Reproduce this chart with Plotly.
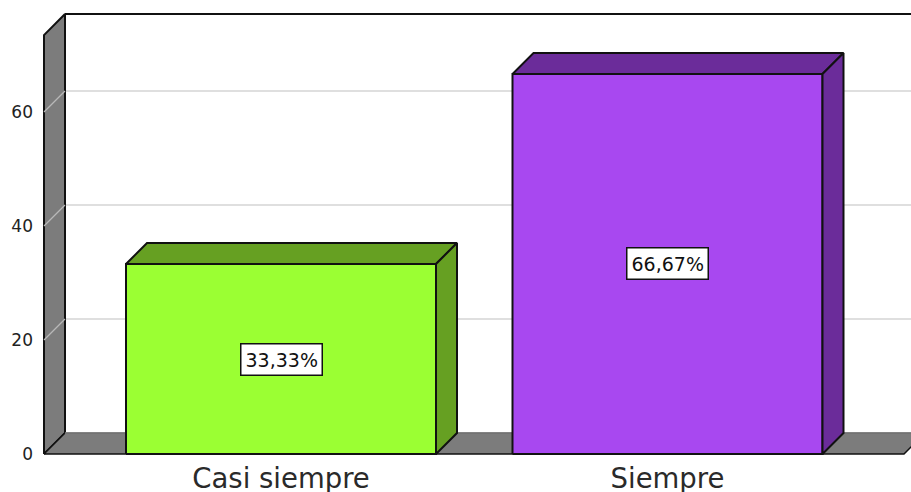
import plotly.graph_objects as go

# Chart data
categories = ["Casi siempre", "Siempre"]
percentages = [33.33, 66.67]
tick_values = [0, 20, 40, 60]

# Colours: front face, and the darker top/side faces
face_colors = ["#9BFF33", "#A848F0"]
shade_colors = ["#66A022", "#6B2C9A"]
WALL_GRAY = "#7C7C7C"
GRID_GRAY = "#D4D4D4"

# Scale helpers for the pseudo-3D layout (pixels per data unit)
PX_X = 386.5          # pixels per category step
PX_Y = 5.7            # pixels per percentage point
DEPTH = 21            # depth offset of the 3D effect, in pixels
DX = DEPTH / PX_X
DY = DEPTH / PX_Y
BAR_W = 310 / PX_X

X_MIN, X_MAX = -241 / PX_X, 630 / PX_X
Y_MIN, Y_MAX = -4 / PX_Y, 442 / PX_Y
WALL_X = -237 / PX_X          # front edge of the side wall
WALL_TOP = 73.5               # height of the walls
FLOOR_END = 623 / PX_X        # front right end of the floor
FAR_RIGHT = X_MAX + 0.2


def fmt_pct(v):
    return f"{v:.2f}".replace(".", ",") + "%"


fig = go.Figure()


def poly(xs, ys, fill, line_color="black", line_width=2):
    fig.add_trace(go.Scatter(
        x=list(xs) + [xs[0]], y=list(ys) + [ys[0]],
        mode="lines", fill="toself", fillcolor=fill,
        line=dict(color=line_color, width=line_width),
        hoverinfo="skip", showlegend=False,
    ))


def line(xs, ys, color, width):
    fig.add_trace(go.Scatter(
        x=xs, y=ys, mode="lines",
        line=dict(color=color, width=width),
        hoverinfo="skip", showlegend=False,
    ))


# Back wall gridlines (the diagonal across the side wall is added later)
for v in tick_values[1:]:
    line([WALL_X + DX, FAR_RIGHT], [v + DY, v + DY], GRID_GRAY, 1.5)

# Top edge of the back wall
line([WALL_X + DX, FAR_RIGHT], [WALL_TOP + DY, WALL_TOP + DY], "#111111", 2)

# Side wall
poly([WALL_X, WALL_X, WALL_X + DX, WALL_X + DX],
     [0, WALL_TOP, WALL_TOP + DY, DY], WALL_GRAY, "#111111", 2)
for v in tick_values[1:]:
    line([WALL_X, WALL_X + DX], [v, v + DY], "#B8B8B8", 1.2)

# Floor
poly([WALL_X, FLOOR_END, FLOOR_END + DX, WALL_X + DX],
     [0, 0, DY, DY], WALL_GRAY, "#111111", 1.5)
line([WALL_X + DX, FAR_RIGHT], [DY, DY], "#BBBBBB", 1.2)

# Bars: front, top and side faces
for i, (v, fc, sc) in enumerate(zip(percentages, face_colors, shade_colors)):
    x0, x1 = i - BAR_W / 2, i + BAR_W / 2
    poly([x0, x1, x1, x0], [0, 0, v, v], fc, "#111111", 2)
    poly([x0, x0 + DX, x1 + DX, x1], [v, v + DY, v + DY, v], sc, "#111111", 2)
    poly([x1, x1, x1 + DX, x1 + DX], [0, v, v + DY, DY], sc, "#111111", 2)

# Value labels
for i, v in enumerate(percentages):
    fig.add_annotation(
        x=i, y=v / 2, text=fmt_pct(v), showarrow=False,
        font=dict(family="DejaVu Sans", size=19, color="#111111"),
        bgcolor="white", bordercolor="#111111", borderwidth=1.5, borderpad=4,
    )

fig.update_layout(
    width=911, height=492,
    margin=dict(l=40, r=0, t=12, b=34, autoexpand=False),
    paper_bgcolor="white", plot_bgcolor="white",
    showlegend=False,
    xaxis=dict(
        range=[X_MIN, X_MAX], tickvals=list(range(len(categories))),
        ticktext=categories, showgrid=False, zeroline=False, showline=False,
        ticks="", tickfont=dict(family="DejaVu Sans", size=27.5, color="#2A2A2A"),
        ticklabelstandoff=1, fixedrange=True, automargin=False,
    ),
    yaxis=dict(
        range=[Y_MIN, Y_MAX], tickvals=tick_values,
        showgrid=False, zeroline=False, showline=False, ticks="",
        tickfont=dict(family="DejaVu Sans", size=17, color="#222222"),
        ticklabelstandoff=6, fixedrange=True, automargin=False,
    ),
)

fig.write_html("out.html")
